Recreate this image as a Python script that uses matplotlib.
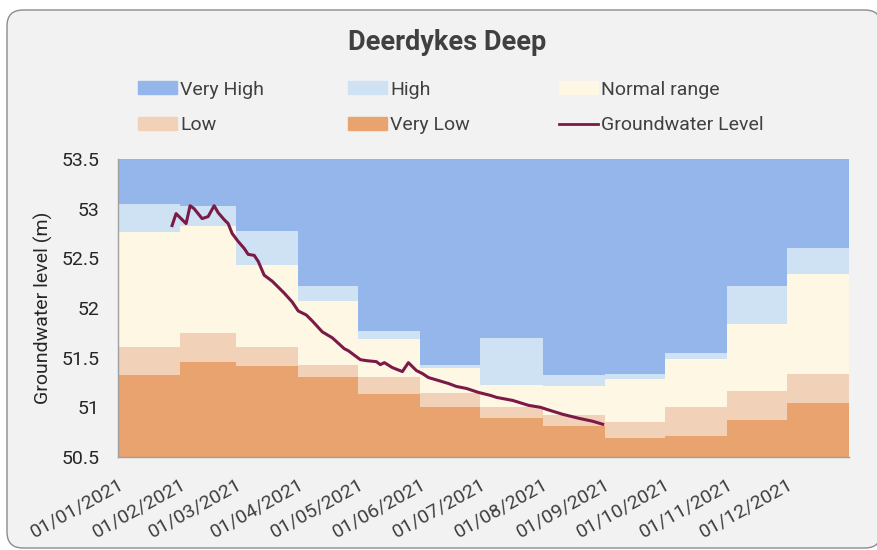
import numpy as np
import pandas as pd
import matplotlib
matplotlib.use('Agg')
import matplotlib.pyplot as plt
import matplotlib.dates as mdates
from matplotlib.patches import FancyBboxPatch, Patch
from matplotlib.lines import Line2D
from matplotlib.transforms import IdentityTransform

plt.rcParams['font.family'] = ['Roboto', 'DejaVu Sans']

# Monthly band boundaries (top of each band, m)
month_starts = ['2021-01-01', '2021-02-01', '2021-03-01', '2021-04-01', '2021-05-01', '2021-06-01',
                '2021-07-01', '2021-08-01', '2021-09-01', '2021-10-01', '2021-11-01', '2021-12-01']
very_low_top = [51.33, 51.46, 51.42, 51.31, 51.13, 51.00, 50.89, 50.81, 50.69, 50.71, 50.87, 51.04]
low_top = [51.61, 51.75, 51.61, 51.43, 51.31, 51.14, 51.00, 50.92, 50.85, 51.00, 51.16, 51.34]
normal_top = [52.77, 52.83, 52.43, 52.07, 51.69, 51.40, 51.22, 51.21, 51.29, 51.49, 51.84, 52.34]
high_top = [53.05, 53.03, 52.78, 52.22, 51.77, 51.43, 51.70, 51.33, 51.34, 51.55, 52.22, 52.60]

# Groundwater level readings
level_dates = ['2021-01-28', '2021-01-30', '2021-02-04', '2021-02-06', '2021-02-08', '2021-02-12',
               '2021-02-15', '2021-02-18', '2021-02-20', '2021-02-23', '2021-02-25', '2021-02-27',
               '2021-03-02', '2021-03-05', '2021-03-07', '2021-03-10', '2021-03-12', '2021-03-15',
               '2021-03-19', '2021-03-22', '2021-03-25', '2021-03-29', '2021-04-01', '2021-04-05',
               '2021-04-08', '2021-04-13', '2021-04-18', '2021-04-24', '2021-04-26', '2021-05-02',
               '2021-05-05', '2021-05-10', '2021-05-12', '2021-05-14', '2021-05-18', '2021-05-23',
               '2021-05-26', '2021-05-30', '2021-06-02', '2021-06-05', '2021-06-10', '2021-06-15',
               '2021-06-19', '2021-06-24', '2021-06-30', '2021-07-06', '2021-07-09', '2021-07-17',
               '2021-07-25', '2021-07-31', '2021-08-03', '2021-08-11', '2021-08-19', '2021-08-26',
               '2021-08-31']
level_values = [52.83, 52.95, 52.85, 53.03, 53.00, 52.90, 52.92, 53.03, 52.96, 52.89, 52.85, 52.75,
                52.67, 52.60, 52.54, 52.53, 52.47, 52.33, 52.27, 52.21, 52.15, 52.06, 51.97, 51.93,
                51.87, 51.76, 51.70, 51.59, 51.57, 51.48, 51.47, 51.46, 51.43, 51.45, 51.40, 51.36,
                51.45, 51.37, 51.34, 51.30, 51.27, 51.24, 51.21, 51.19, 51.15, 51.12, 51.10, 51.07,
                51.02, 51.00, 50.98, 50.93, 50.89, 50.86, 50.83]

colors = {
    'Very High': '#95b6ea',
    'High': '#cfe2f3',
    'Normal range': '#fef7e3',
    'Low': '#f1d1b8',
    'Very Low': '#e9a36f',
}
line_color = '#7b1a47'
ymin, ymax = 50.5, 53.5

# step edges: month starts plus end of year
edges = pd.to_datetime(month_starts + ['2022-01-01'])

def ext(v):
    return list(v) + [v[-1]]

fig = plt.figure(figsize=(8.77, 5.5), dpi=100, facecolor='white')
frame = FancyBboxPatch((7, 2), 874, 538, boxstyle='round,pad=0,rounding_size=16',
                       transform=IdentityTransform(), fc='#f2f2f2', ec='#8c8c8c', lw=1, zorder=-5)
fig.add_artist(frame)

ax = fig.add_axes([118 / 877, 1 - 457 / 550, 731 / 877, 298 / 550])
ax.set_facecolor('none')

bottom = [ymin] * 12
top = [ymax] * 12
ax.fill_between(edges, ext(bottom), ext(very_low_top), step='post', color=colors['Very Low'], lw=0)
ax.fill_between(edges, ext(very_low_top), ext(low_top), step='post', color=colors['Low'], lw=0)
ax.fill_between(edges, ext(low_top), ext(normal_top), step='post', color=colors['Normal range'], lw=0)
ax.fill_between(edges, ext(normal_top), ext(high_top), step='post', color=colors['High'], lw=0)
ax.fill_between(edges, ext(high_top), ext(top), step='post', color=colors['Very High'], lw=0)

ax.plot(pd.to_datetime(level_dates), level_values, color=line_color, lw=2.2)

ax.set_xlim(edges[0], edges[-1])
ax.set_ylim(ymin, ymax)
ax.set_yticks(np.arange(50.5, 53.51, 0.5))
ax.yaxis.set_major_formatter(plt.FuncFormatter(lambda v, p: f'{v:g}'))
ax.set_xticks(pd.to_datetime(month_starts))
ax.xaxis.set_major_formatter(mdates.DateFormatter('%d/%m/%Y'))

ax.tick_params(axis='y', length=0, pad=13.5, labelsize=14, labelcolor='#262626')
ax.tick_params(axis='x', length=0, pad=13, labelsize=14, labelcolor='#404040')
for lab in ax.get_xticklabels():
    lab.set_rotation(29)
    lab.set_ha('right')
    lab.set_va('top')
    lab.set_rotation_mode('anchor')

for s in ['top', 'right']:
    ax.spines[s].set_visible(False)
for s in ['left', 'bottom']:
    ax.spines[s].set_color('#a0a0a0')
    ax.spines[s].set_linewidth(1)

ax.set_ylabel('Groundwater level (m)', fontsize=14, color='#262626')
ax.yaxis.label.set_va('center')
ax.yaxis.set_label_coords((43 - 118) / 731, 0.5)

fig.text(447.5 / 877, 1 - 42 / 550, 'Deerdykes Deep', ha='center', va='center',
         fontsize=19.5, fontweight='bold', color='#404040')

# legend: three columns of two rows
columns = [
    [Patch(color=colors['Very High'], label='Very High'), Patch(color=colors['Low'], label='Low')],
    [Patch(color=colors['High'], label='High'), Patch(color=colors['Very Low'], label='Very Low')],
    [Patch(color=colors['Normal range'], label='Normal range'),
     Line2D([], [], color=line_color, lw=2, label='Groundwater Level')],
]
col_x = [138, 348, 559]
for x, handles in zip(col_x, columns):
    fig.legend(handles=handles, loc='center left', bbox_to_anchor=(x / 877, 1 - 107.5 / 550),
               frameon=False, fontsize=14, labelcolor='#404040', borderpad=0, borderaxespad=0,
               handlelength=2.0, handleheight=0.65, handletextpad=0.18, labelspacing=0.9)

fig.savefig('out.png', dpi=100)
